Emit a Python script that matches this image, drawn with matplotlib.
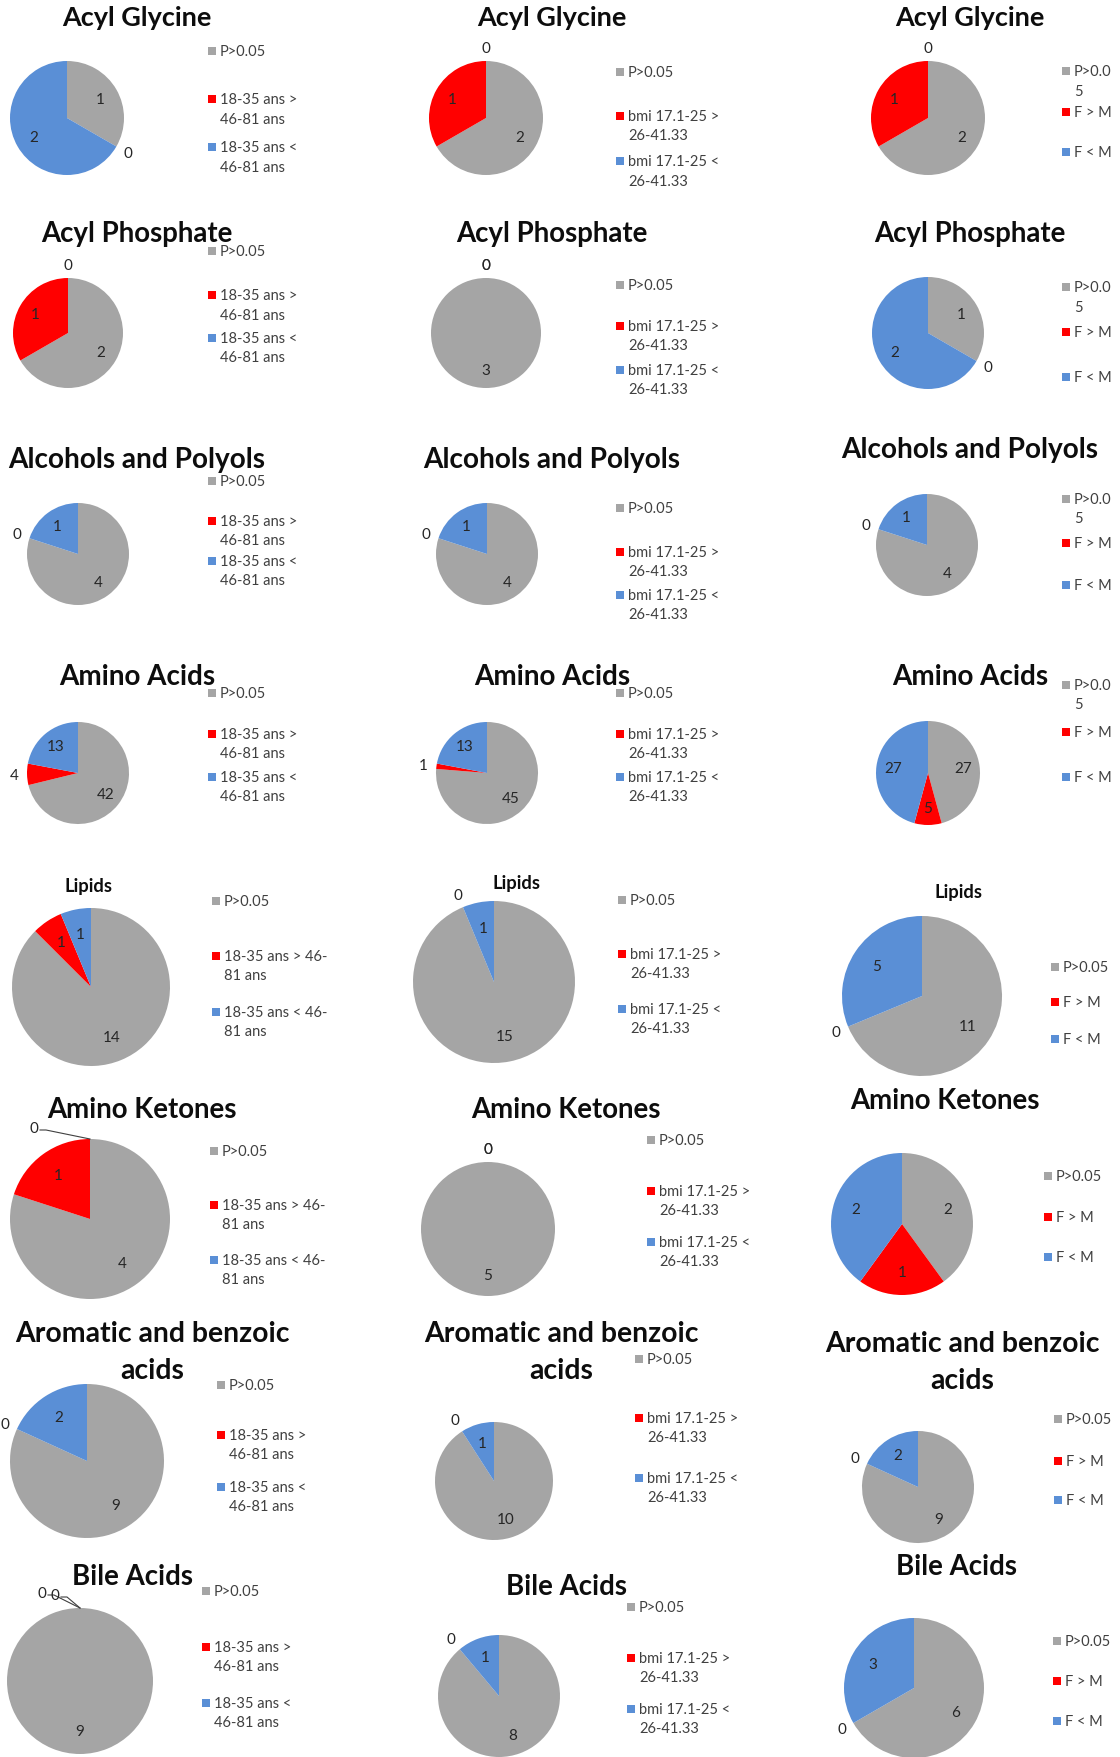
import matplotlib
matplotlib.use("Agg")
import numpy as np
import matplotlib.pyplot as plt
from matplotlib.patches import Rectangle

plt.rcParams['font.family'] = ['Lato', 'DejaVu Sans']

# ---------------------------------------------------------------- data
categories = ['Acyl Glycine', 'Acyl Phosphate', 'Alcohols and Polyols', 'Amino Acids',
              'Lipids', 'Amino Ketones', 'Aromatic and benzoic\nacids', 'Bile Acids']

# number of metabolites per class: [not significant, group1 > group2, group1 < group2]
age_counts = [[1, 0, 2], [2, 1, 0], [4, 0, 1], [42, 4, 13],
              [14, 1, 1], [4, 1, 0], [9, 0, 2], [9, 0, 0]]
bmi_counts = [[2, 1, 0], [3, 0, 0], [4, 0, 1], [45, 1, 13],
              [15, 0, 1], [5, 0, 0], [10, 0, 1], [8, 0, 1]]
sex_counts = [[2, 1, 0], [1, 0, 2], [4, 0, 1], [27, 5, 27],
              [11, 0, 5], [2, 1, 2], [9, 0, 2], [6, 0, 3]]

age_legend = ['P>0.05', '18-35 ans >\n46-81 ans', '18-35 ans <\n46-81 ans']
age_legend_wrap = ['P>0.05', '18-35 ans > 46-\n81 ans', '18-35 ans < 46-\n81 ans']
bmi_legend = ['P>0.05', 'bmi 17.1-25 >\n26-41.33', 'bmi 17.1-25 <\n26-41.33']
sex_legend_narrow = ['P>0.0\n5', 'F > M', 'F < M']
sex_legend = ['P>0.05', 'F > M', 'F < M']

series_colors = ['#A5A5A5', '#FF0000', '#5A8FD6']

# ---------------------------------------------------------------- layout (pixels)
W, H = 1120, 1758
# title width per row
title_widths = [149, 192, 257, 156, 48, 190, 274, 121]
# per row, per column: (title x, title y, pie cx, pie cy, radius, legend x, legend ys)
layout = [
    [(137, 18, 67, 119, 57, 212, [52, 100, 148]),
     (552, 18, 486, 119, 57, 620, [73, 117, 162]),
     (970, 18, 928, 119, 57, 1066, [72, 113, 153])],
    [(137, 234, 68, 334, 55, 212, [252, 296, 339]),
     (552, 234, 486, 334, 55, 620, [286, 327, 371]),
     (970, 234, 928, 334, 56, 1066, [288, 333, 378])],
    [(137, 460, 78, 555, 51, 212, [482, 522, 562]),
     (552, 460, 487, 555, 51, 620, [509, 553, 596]),
     (970, 450, 927, 546, 51, 1066, [500, 544, 586])],
    [(137, 677, 78, 774, 51, 212, [694, 735, 778]),
     (552, 677, 487, 774, 51, 620, [694, 735, 778]),
     (970, 677, 928, 774, 52, 1066, [686, 733, 778])],
    [(88, 887, 91, 988, 79, 216, [902, 957, 1013]),
     (517, 884, 494, 983, 81, 622, [901, 955, 1010]),
     (959, 893, 922, 997, 80, 1055, [968, 1003, 1040])],
    [(142, 1110, 90, 1220, 80, 214, [1152, 1206, 1261]),
     (566, 1110, 488, 1230, 67, 651, [1141, 1192, 1243]),
     (945, 1101, 902, 1225, 71, 1048, [1177, 1218, 1258])],
    [(152, 1334, 87, 1462, 77, 221, [1386, 1436, 1488]),
     (561, 1334, 494, 1482, 59, 639, [1360, 1419, 1479]),
     (962, 1344, 918, 1488, 56, 1058, [1420, 1462, 1501])],
    [(132, 1577, 80, 1682, 73, 206, [1592, 1648, 1704]),
     (566, 1587, 499, 1697, 61, 631, [1608, 1659, 1710]),
     (956, 1567, 914, 1689, 70, 1057, [1642, 1682, 1722])],
]
# zero labels moved away from the title, with leader lines: (row, col) -> {slice: (x, y)}
moved_labels = {
    (5, 0): {2: (34, 1129)},
    (7, 0): {1: (42, 1594), 2: (55, 1596)},
}

LEG_COLOR = '#404040'
LAB_COLOR = '#262626'
LEG_FS = 10.5
LAB_FS = 11
LINE = 19.5
OUTSIDE_GAP = 13

fig = plt.figure(figsize=(W / 100, H / 100), dpi=100)
ax = fig.add_axes([0, 0, 1, 1])
renderer = fig.canvas.get_renderer()


def fitted_text(x, y, s, width):
    t = ax.text(x, y, s, fontsize=20, fontweight='bold', color='#0D0D0D',
                ha='center', va='center')
    bb = t.get_window_extent(renderer)
    t.set_fontsize(20 * width / bb.width)
    return t


for r, cat in enumerate(categories):
    col_data = [age_counts[r], bmi_counts[r], sex_counts[r]]
    col_legends = [age_legend_wrap if r in (4, 5) else age_legend,
                   bmi_legend,
                   sex_legend_narrow if r < 4 else sex_legend]
    for c in range(3):
        tx, ty, cx, cy, rad, lx, lys = layout[r][c]
        vals = col_data[c]

        # title (one or two lines)
        lines = cat.split('\n')
        lead = 37 if len(lines) > 1 else 0
        fs_ref = None
        for i, ln in enumerate(lines):
            if i == 0:
                t = fitted_text(tx, ty, ln, title_widths[r])
                fs_ref = t.get_fontsize()
            else:
                ax.text(tx, ty + i * lead, ln, fontsize=fs_ref, fontweight='bold',
                        color='#0D0D0D', ha='center', va='center')

        # pie: y axis points down, so counter-clockwise in data is clockwise on screen
        wedges, _ = ax.pie(vals, colors=series_colors, startangle=-90, counterclock=True,
                           center=(cx, cy), radius=rad, wedgeprops=dict(linewidth=0))

        moved = moved_labels.get((r, c), {})
        for k, (w, v) in enumerate(zip(wedges, vals)):
            mid = np.radians((w.theta1 + w.theta2) / 2)
            arc = np.radians(w.theta2 - w.theta1) * rad
            if k in moved:
                x, y = moved[k]
                ax.text(x, y, str(v), fontsize=LAB_FS, color=LAB_COLOR, ha='center', va='center')
                ex = cx + rad * np.cos(np.radians(w.theta1))
                ey = cy + rad * np.sin(np.radians(w.theta1))
                ax.plot([x + 6, x + 12, ex], [y + 2, y + 2, ey], color='#404040', lw=0.8)
                continue
            d = 0.68 * rad if (v > 0 and arc >= 25) else rad + OUTSIDE_GAP
            ax.text(cx + d * np.cos(mid), cy + d * np.sin(mid), str(v),
                    fontsize=LAB_FS, color=LAB_COLOR, ha='center', va='center')

        # legend
        for k, (lab, ly) in enumerate(zip(col_legends[c], lys)):
            ax.add_patch(Rectangle((lx - 4, ly - 4), 8, 8, facecolor=series_colors[k],
                                   edgecolor='none'))
            for j, part in enumerate(lab.split('\n')):
                ax.text(lx + 8, ly + j * LINE, part, fontsize=LEG_FS, color=LEG_COLOR,
                        ha='left', va='center')

ax.set_xlim(0, W)
ax.set_ylim(H, 0)
ax.set_aspect('auto')
ax.axis('off')
fig.savefig('out.png', dpi=100, facecolor='white')
